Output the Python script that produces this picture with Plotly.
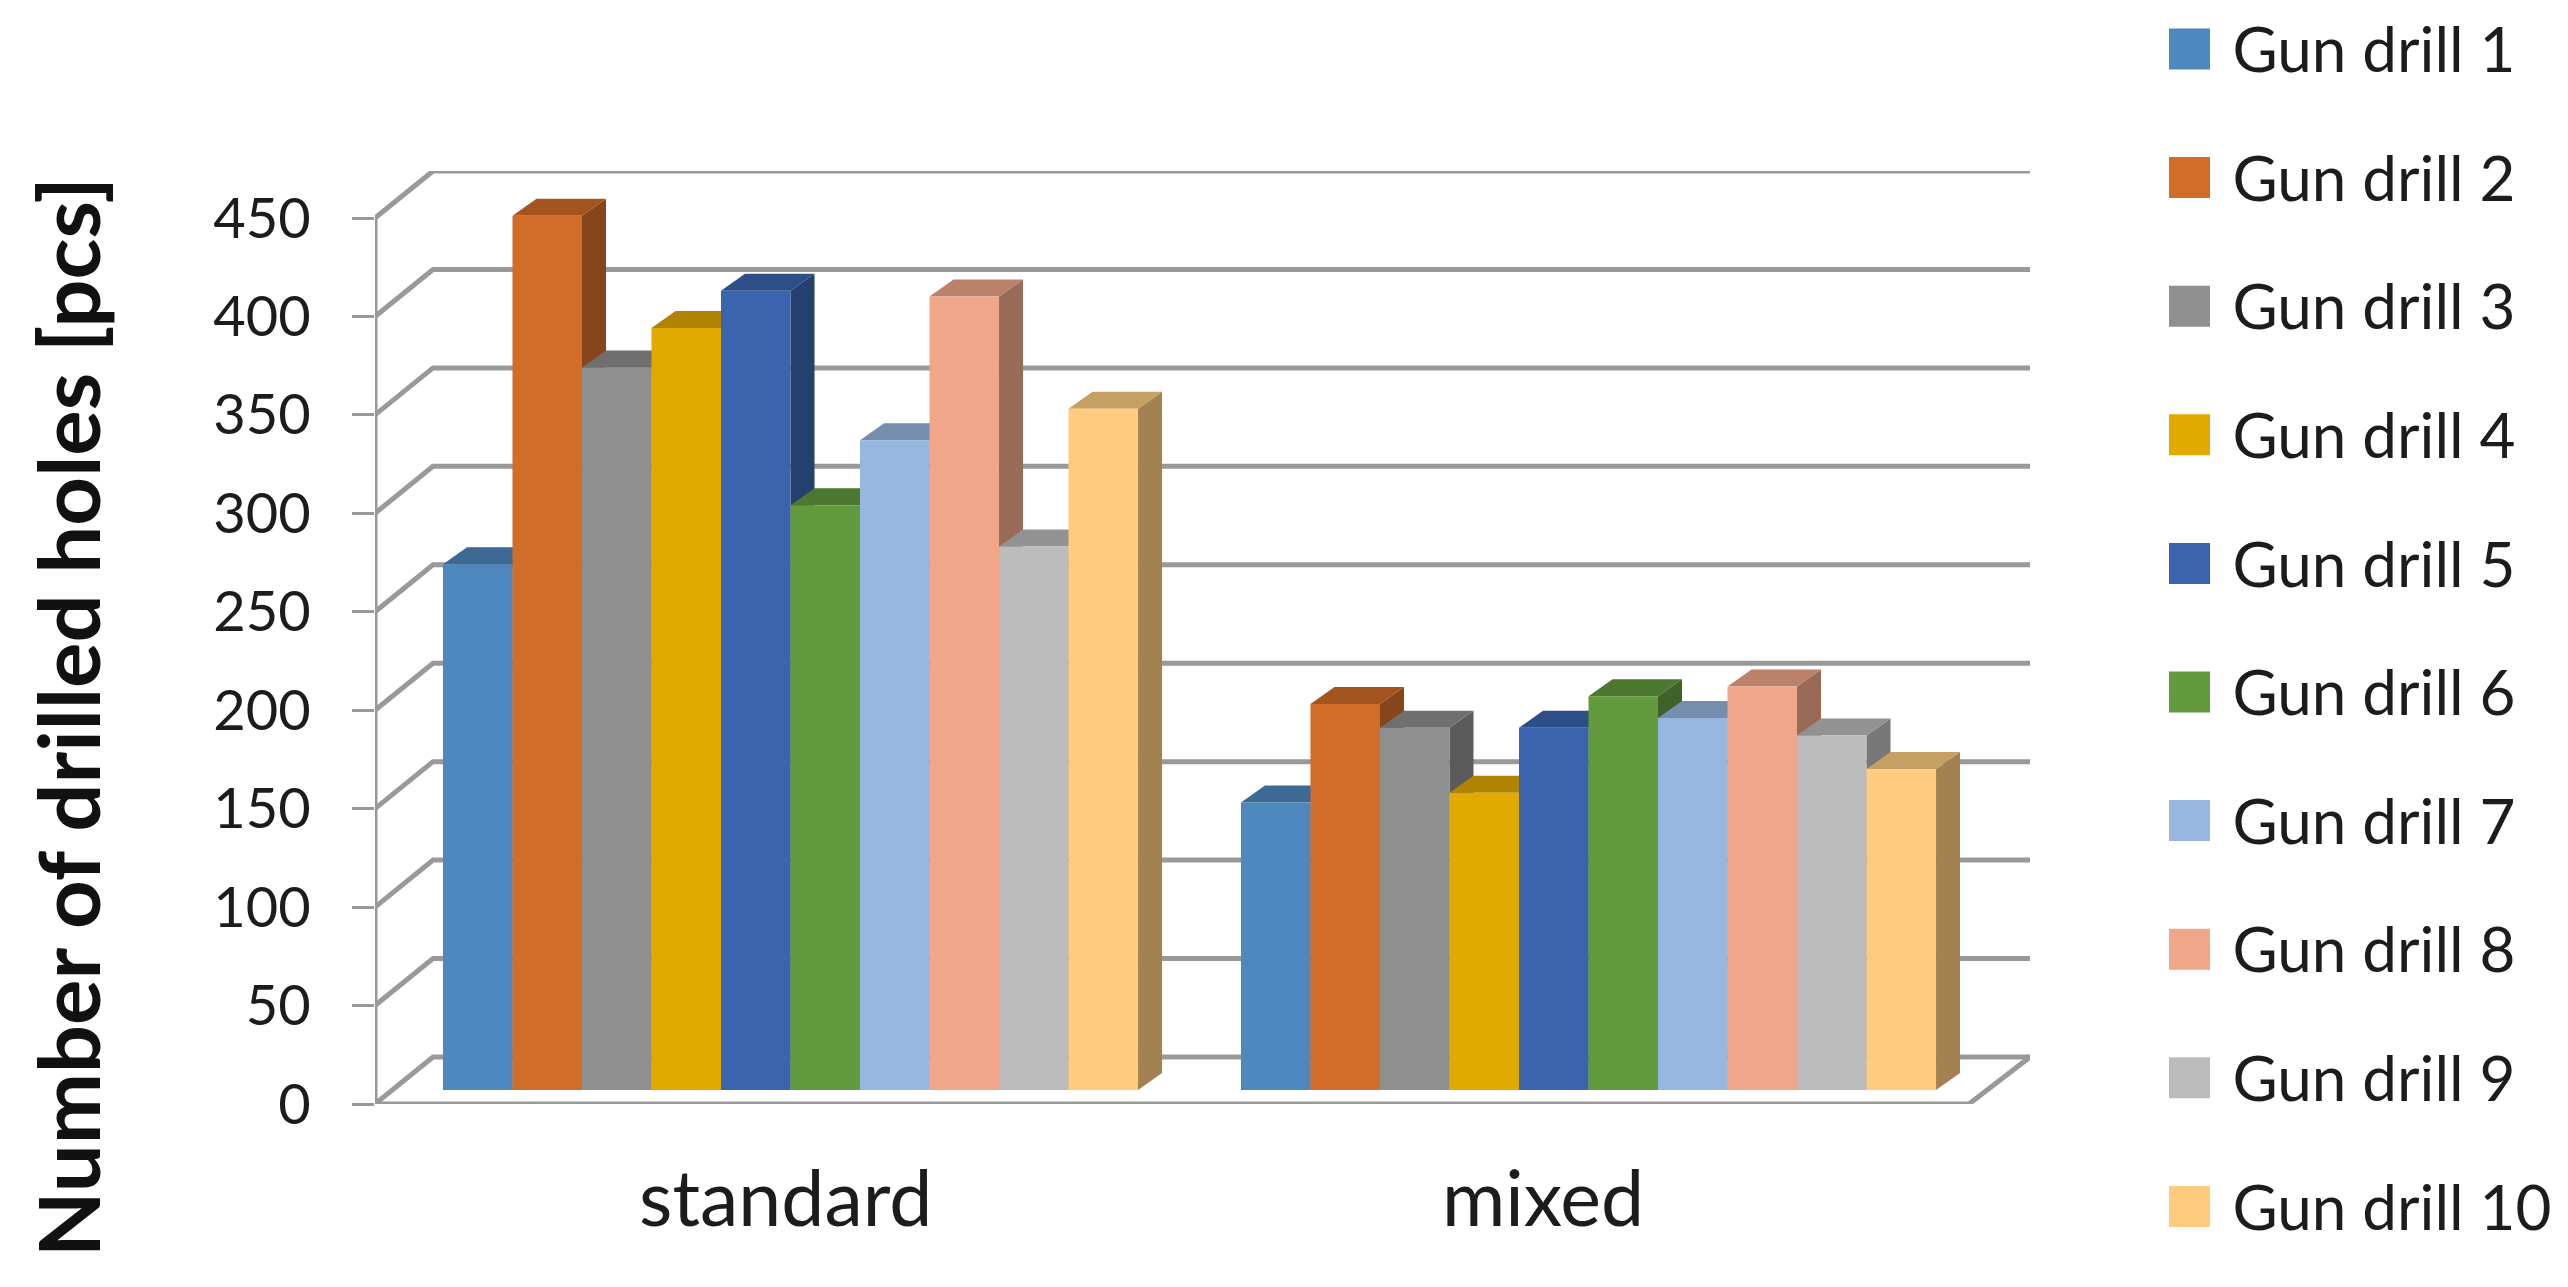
import plotly.graph_objects as go

W, H = 2568, 1287

groups = ["standard", "mixed"]
series = [f"Gun drill {i}" for i in range(1, 11)]
standard = [267, 444, 367, 387, 406, 297, 330, 403, 276, 346]
mixed = [146, 196, 184, 151, 184, 200, 189, 205, 180, 163]
colors = ["#4F88BE", "#D26C29", "#8F8F8F", "#E2A900", "#3A64AE",
          "#629A3D", "#97B7E0", "#F1A68A", "#BCBCBC", "#FFCC7F"]
y_ticks = list(range(0, 451, 50))

# axis geometry (pixel layout of the frame)
PX_LEFT, PX_RIGHT = 375, 2030
PX_Y0, PX_TOP = 1104, 171
PX_PER_UNIT = 886 / 450
GROUP_PX = 798
GROUP0_PX = 790.5
BARGAP = 0.129
x_range = [(PX_LEFT - GROUP0_PX) / GROUP_PX, (PX_RIGHT - GROUP0_PX) / GROUP_PX]
y_range = [0, (PX_Y0 - PX_TOP) / PX_PER_UNIT]
dom_x = [PX_LEFT / W, PX_RIGHT / W]
dom_y = [(H - PX_Y0) / H, (H - PX_TOP) / H]

def xu(px_delta):
    return px_delta / GROUP_PX

def yu(px_delta):
    return px_delta / PX_PER_UNIT

base = yu(14)
depth_x, depth_y = xu(24), yu(17)
wall_dy = yu(47)
front_left, back_left = x_range[0], x_range[0] + xu(58)
front_right, back_right = x_range[1] - xu(61), x_range[1]
bar_w = (1 - BARGAP) / len(series)

GRID = "#999999"
FONT = "Lato"
TXT = "#1c1c1c"

def shade(hex_color, f):
    r, g, b = (int(hex_color[i:i + 2], 16) for i in (1, 3, 5))
    return f"rgb({int(r * f)},{int(g * f)},{int(b * f)})"

fig = go.Figure()

# back wall and left wall gridlines
gx, gy = [], []
for v in y_ticks:
    gx += [front_left, back_left, back_right, None]
    gy += [v, v + wall_dy, v + wall_dy, None]
fig.add_trace(go.Scatter(x=gx, y=gy, mode="lines", line=dict(color=GRID, width=5),
                         cliponaxis=False, showlegend=False, hoverinfo="skip"))
# floor and front vertical axis
fig.add_trace(go.Scatter(
    x=[front_left, front_right, back_right, None, front_left, front_left],
    y=[0, 0, wall_dy, None, 0, y_ticks[-1]],
    mode="lines", line=dict(color=GRID, width=5), cliponaxis=False,
    showlegend=False, hoverinfo="skip"))

def bar_left(g, i):
    return g - (1 - BARGAP) / 2 + i * bar_w

# side faces first, then top faces
for i, name in enumerate(series):
    sx, sy = [], []
    for g, vals in enumerate([standard, mixed]):
        x1 = bar_left(g, i) + bar_w
        t = base + vals[i]
        sx += [x1, x1, x1 + depth_x, x1 + depth_x, x1, None]
        sy += [base, t, t + depth_y, base + depth_y, base, None]
    fig.add_trace(go.Scatter(x=sx, y=sy, mode="lines", fill="toself", line=dict(width=0),
                             fillcolor=shade(colors[i], 0.64), cliponaxis=False,
                             showlegend=False, hoverinfo="skip"))
for i, name in enumerate(series):
    tx, ty = [], []
    for g, vals in enumerate([standard, mixed]):
        x0 = bar_left(g, i)
        x1 = x0 + bar_w
        t = base + vals[i]
        tx += [x0, x0 + depth_x, x1 + depth_x, x1, x0, None]
        ty += [t, t + depth_y, t + depth_y, t, t, None]
    fig.add_trace(go.Scatter(x=tx, y=ty, mode="lines", fill="toself", line=dict(width=0),
                             fillcolor=shade(colors[i], 0.78), cliponaxis=False,
                             showlegend=False, hoverinfo="skip"))

# front faces
for i, name in enumerate(series):
    fig.add_trace(go.Bar(x=[0, 1], y=[standard[i], mixed[i]], base=base, name=name,
                         marker=dict(color=colors[i], line=dict(width=0)),
                         xaxis="x2", yaxis="y2", showlegend=False))

# legend drawn as its own small scatter panel
leg_y = list(range(len(series)))
fig.add_trace(go.Scatter(x=[0] * len(series), y=leg_y, mode="markers",
                         marker=dict(symbol="square", size=41, color=colors, line=dict(width=0)),
                         xaxis="x3", yaxis="y3", cliponaxis=False, showlegend=False,
                         hoverinfo="skip"))
fig.add_trace(go.Scatter(x=[43] * len(series), y=[v + 0.06 for v in leg_y], mode="text", text=series,
                         textposition="middle right",
                         textfont=dict(family=FONT, size=62, color=TXT),
                         xaxis="x3", yaxis="y3", cliponaxis=False, showlegend=False,
                         hoverinfo="skip"))

axis_off = dict(visible=False, fixedrange=True, automargin=False)
fig.update_layout(
    width=W, height=H, margin=dict(l=0, r=0, t=0, b=0),
    paper_bgcolor="white", plot_bgcolor="rgba(0,0,0,0)",
    barmode="group", bargap=BARGAP, bargroupgap=0, showlegend=False,
    font=dict(family=FONT, size=58, color=TXT),
    xaxis=dict(domain=dom_x, range=x_range, showgrid=False, zeroline=False, showline=False,
               automargin=False, tickmode="array", tickvals=[-0.006, 0.943], ticktext=groups,
               ticks="", ticklabelstandoff=44, tickfont=dict(family=FONT, size=77, color=TXT)),
    yaxis=dict(domain=dom_y, range=y_range, showgrid=False, zeroline=False, showline=False,
               automargin=False, tickmode="array", tickvals=y_ticks, ticks="outside",
               ticklen=22, tickwidth=3, tickcolor=GRID, ticklabelstandoff=30,
               tickfont=dict(family=FONT, size=56, color=TXT)),
    xaxis2=dict(domain=dom_x, range=x_range, overlaying="x", anchor="y2", **axis_off),
    yaxis2=dict(domain=dom_y, range=y_range, overlaying="y", anchor="x2", **axis_off),
    xaxis3=dict(domain=[2169 / W, 1.0], range=[-20.5, 378.5], anchor="y3", **axis_off),
    yaxis3=dict(domain=[0.0, 1.0], range=[(1287 - 49) / 128.6, -49 / 128.6], anchor="x3", **axis_off),
    annotations=[dict(text="<b>Number of drilled holes [pcs]</b>", textangle=-90,
                      x=67 / W, y=1 - 717 / H, xref="paper", yref="paper",
                      xanchor="center", yanchor="middle", showarrow=False,
                      font=dict(family=FONT, size=85, color="#111111"))],
)

fig.write_html("out.html", post_script="document.body.style.margin='0';",
               config={"displayModeBar": False})
